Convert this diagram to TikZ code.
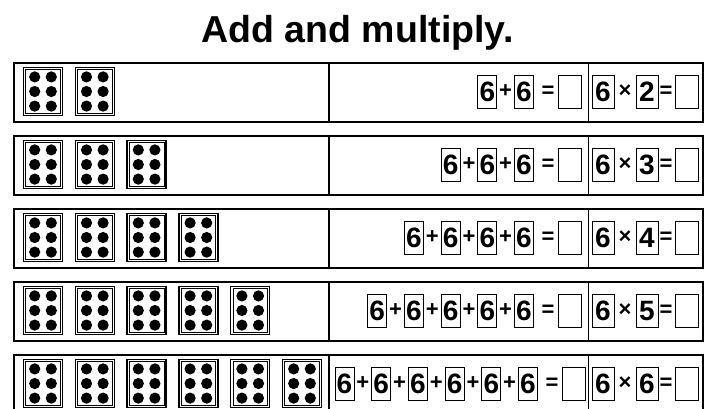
\documentclass[tikz,border=0pt]{standalone}
\usepackage{fontspec}
\setmainfont{Liberation Sans}
\begin{document}
\begin{tikzpicture}[x=1pt,y=-1pt,
  rowbox/.style={draw, line width=1.5pt, minimum width=689pt, minimum height=59pt, inner sep=0pt, anchor=north west},
  die/.style={draw, line width=1.5pt, minimum width=39pt, minimum height=48pt, inner sep=0pt},
  dbox/.style={draw, line width=0.9pt, minimum width=19pt, minimum height=33pt, inner sep=0pt, font=\bfseries\fontsize{28}{28}\selectfont},
  wbox/.style={dbox, minimum width=22pt},
  abox/.style={dbox, minimum width=23pt},
  op/.style={inner sep=0pt, font=\bfseries\fontsize{22}{22}\selectfont}]
\useasboundingbox (0,0) rectangle (707,408);
\clip (0,0) rectangle (707,408);
\node[anchor=base, font=\bfseries\fontsize{37.5}{40}\selectfont] (title) at (357.5,42) {Add and multiply.};
\foreach \n [count=\i] in {2,...,6} {
  \pgfmathsetmacro\top{62+(\i-1)*73}
  \pgfmathsetmacro\mid{\top+29.5}
  \pgfmathsetmacro\sh{ifthenelse(\n==6,4,0)}
  \node[rowbox] (row\i) at (13,\top) {};
  \draw[line width=1.5pt] (329,\top) -- (329,\top+59);
  \draw[line width=1.5pt] (588.5,\top) -- (588.5,\top+59);
  % dice
  \foreach \j in {1,...,\n} {
    \pgfmathsetmacro\dx{43+(\j-1)*51.8}
    \node[die] (d\i-\j) at (\dx,\mid) {};
    \draw[line width=0.7pt] ([shift={(3,3)}]d\i-\j.north west) rectangle ([shift={(-3,-3)}]d\i-\j.south east);
    \foreach \ox in {-8.3,8.3} \foreach \oy in {-14.6,0,14.6}
      \fill (d\i-\j.center) ++(\ox,\oy) circle[radius=5.6pt];
  }
  % addition
  \foreach \k in {1,...,\n} {
    \pgfmathsetmacro\cx{524-(\n-\k)*36.7+\sh}
    \node[dbox] (s\i-\k) at (\cx,\mid) {6};
  }
  \foreach \k in {2,...,\n} {
    \pgfmathsetmacro\px{524-(\n-\k)*36.7+\sh-18.35}
    \node[op] (p\i-\k) at (\px,\mid) {+};
  }
  \node[op] (e\i) at (548+\sh,\mid) {=};
  \node[abox] (a\i) at (569.5+\sh,\mid) {};
  % multiplication
  \node[wbox] (m\i) at (603,\mid) {6};
  \node[op] (x\i) at (625,\mid) {×};
  \node[wbox] (f\i) at (647,\mid) {\n};
  \node[op] (q\i) at (666,\mid) {=};
  \node[abox] (r\i) at (686.5,\mid) {};
}
\end{tikzpicture}
\end{document}
